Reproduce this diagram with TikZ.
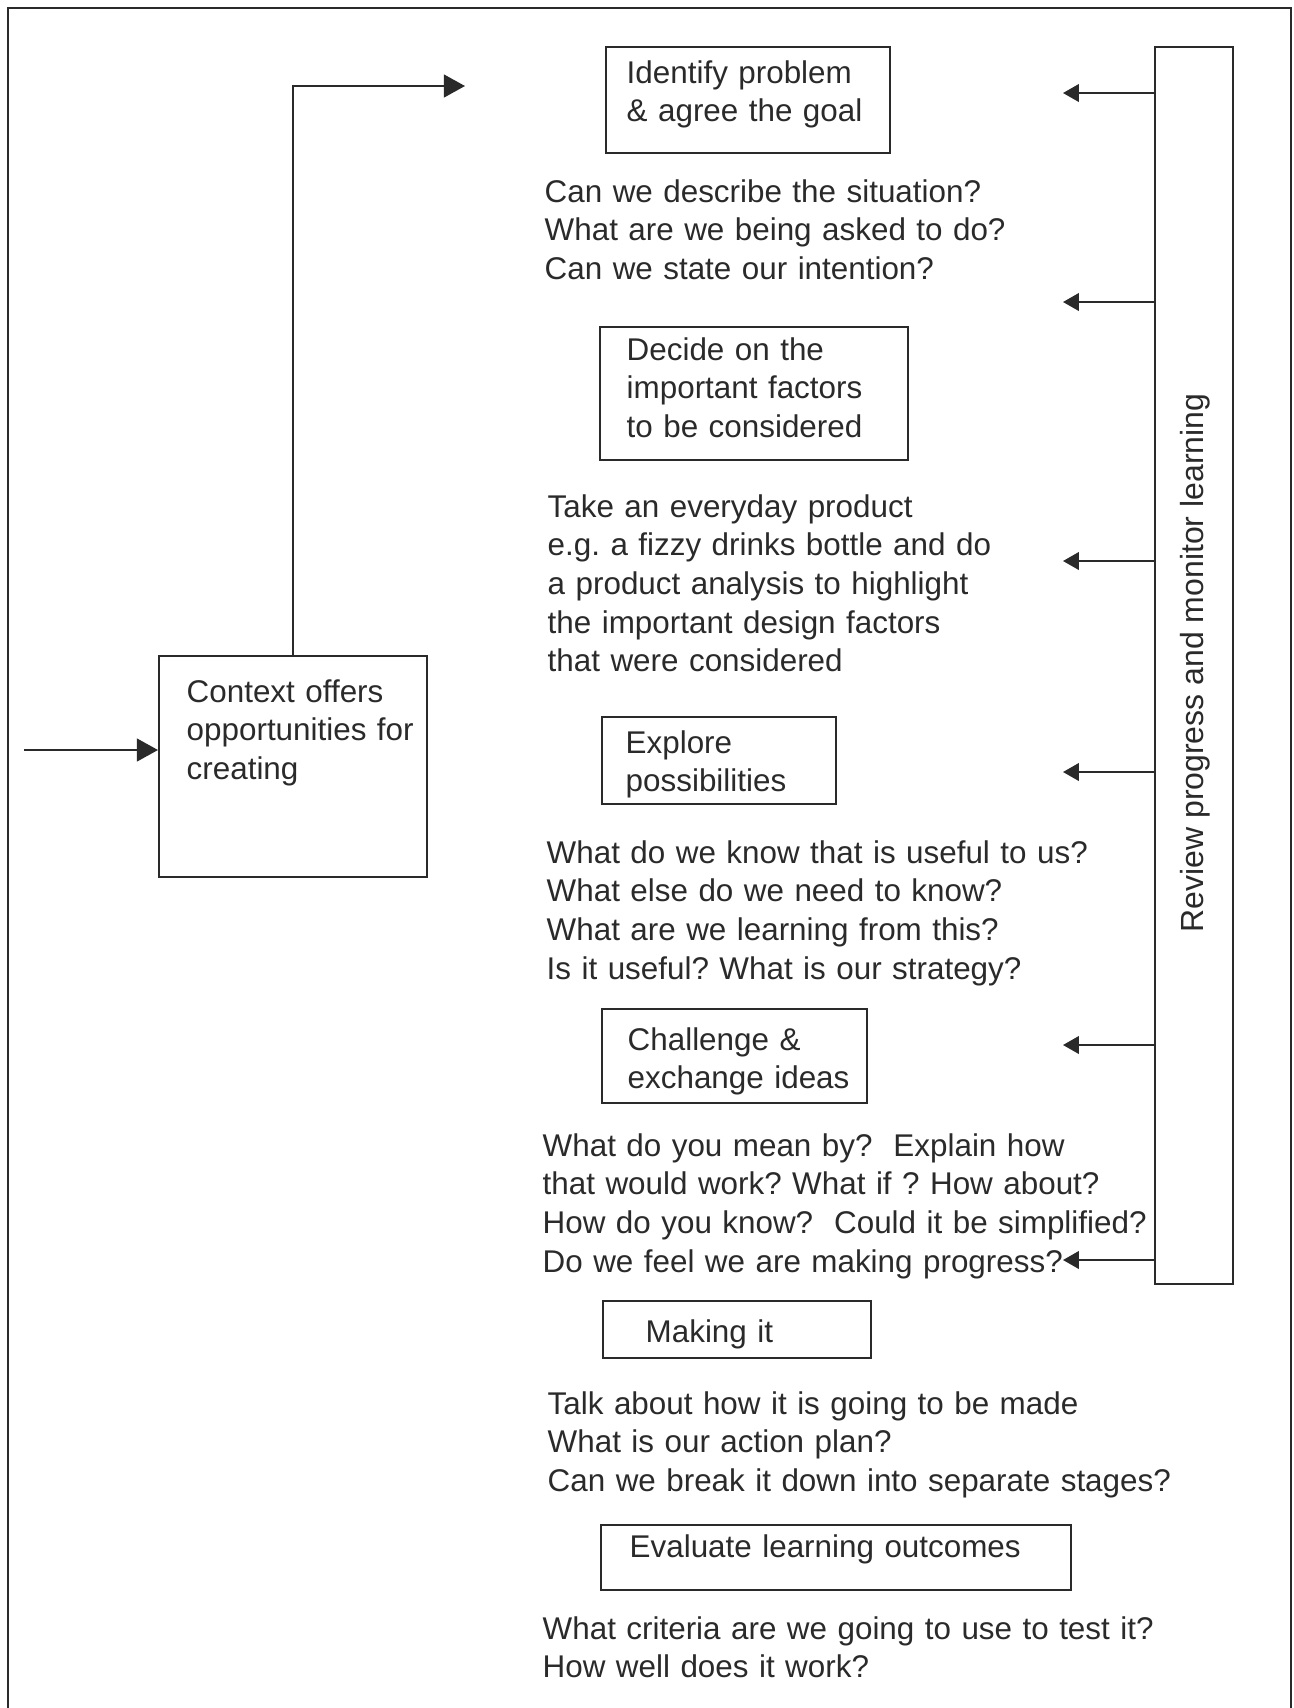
\documentclass[tikz,border=0pt]{standalone}
\usepackage{fontspec}
\setmainfont{Liberation Sans}
\usetikzlibrary{arrows.meta}
\definecolor{ink}{HTML}{2A2A2A}
\tikzset{
  stage/.style={draw=ink, line width=0.6pt, anchor=north west, inner sep=0pt},
  notes/.style={anchor=base west, inner sep=0pt, align=left, text width=6.6cm, text=ink},
  link/.style={draw=ink, line width=0.5pt, -{Triangle[length=6pt,width=6.5pt]}},
  back/.style={draw=ink, line width=0.5pt, -{Triangle[length=4.5pt,width=5pt]}},
}
\begin{document}
\frenchspacing
\begin{tikzpicture}[x=0.01cm,y=-0.01cm,font=\fontsize{8.93}{11}\selectfont]
  \useasboundingbox (0,0) rectangle (1293,1708);
  \draw[ink, line width=0.8pt] (8,1708) -- (8,8) -- (1291,8) -- (1291,1708);

  % stages down the middle
  \node[stage, minimum width=2.84cm, minimum height=1.06cm] (goal) at (605,46) {};
  \node[notes] (goaltext) at (626,83) {Identify problem\\\& agree the goal};
  \node[notes] (goalnotes) at (544,202)
    {Can we describe the situation?\\What are we being asked to do?\\Can we state our intention?};

  \node[stage, minimum width=3.08cm, minimum height=1.33cm] (factors) at (599,326) {};
  \node[notes] (factorstext) at (626,360) {Decide on the\\important factors\\to be considered};
  \node[notes] (factorsnotes) at (547,517)
    {Take an everyday product\\e.g. a fizzy drinks bottle and do\\a product analysis to highlight\\the important design factors\\that were considered};

  \node[stage, minimum width=2.34cm, minimum height=0.87cm] (explore) at (601,716) {};
  \node[notes] (exploretext) at (625,753) {Explore\\possibilities};
  \node[notes] (explorenotes) at (546,863)
    {What do we know that is useful to us?\\What else do we need to know?\\What are we learning from this?\\Is it useful? What is our strategy?};

  \node[stage, minimum width=2.65cm, minimum height=0.94cm] (challenge) at (601,1008) {};
  \node[notes] (challengetext) at (627,1050) {Challenge \&\\exchange ideas};
  \node[notes] (challengenotes) at (542,1156)
    {What do you mean by?\ \ Explain how\\that would work? What if ? How about?\\How do you know?\ \ Could it be simplified?\\Do we feel we are making progress?};

  \node[stage, minimum width=2.68cm, minimum height=0.57cm] (making) at (602,1300) {};
  \node[notes] (makingtext) at (645,1342) {Making it};
  \node[notes] (makingnotes) at (547,1414)
    {Talk about how it is going to be made\\What is our action plan?\\Can we break it down into separate stages?};

  \node[stage, minimum width=4.70cm, minimum height=0.65cm] (evaluate) at (600,1524) {};
  \node[notes] (evaluatetext) at (629,1557) {Evaluate learning outcomes};
  \node[notes] (evaluatenotes) at (542,1639)
    {What criteria are we going to use to test it?\\How well does it work?};

  % context on the left
  \node[stage, minimum width=2.68cm, minimum height=2.21cm] (context) at (158,655) {};
  \node[notes] (contexttext) at (186,702) {Context offers\\opportunities for\\creating};

  % review bar on the right
  \node[stage, minimum width=0.78cm, minimum height=12.36cm] (review) at (1154,46) {};
  \node[rotate=90, text=ink, font=\fontsize{9.1}{11}\selectfont] (reviewtext) at (1195,663)
    {Review progress and monitor learning};

  \coordinate (start) at (24,750);
  \coordinate (goalin) at (465,86);
  \draw[link] (start) -- (start -| context.west);
  \draw[link] (context.north) |- (goalin);

  \foreach \y in {93,302,561,772,1045,1260}{
    \coordinate (back\y) at (1063,\y);
    \draw[back] (review.west |- back\y) -- (back\y);
  }
\end{tikzpicture}
\end{document}
